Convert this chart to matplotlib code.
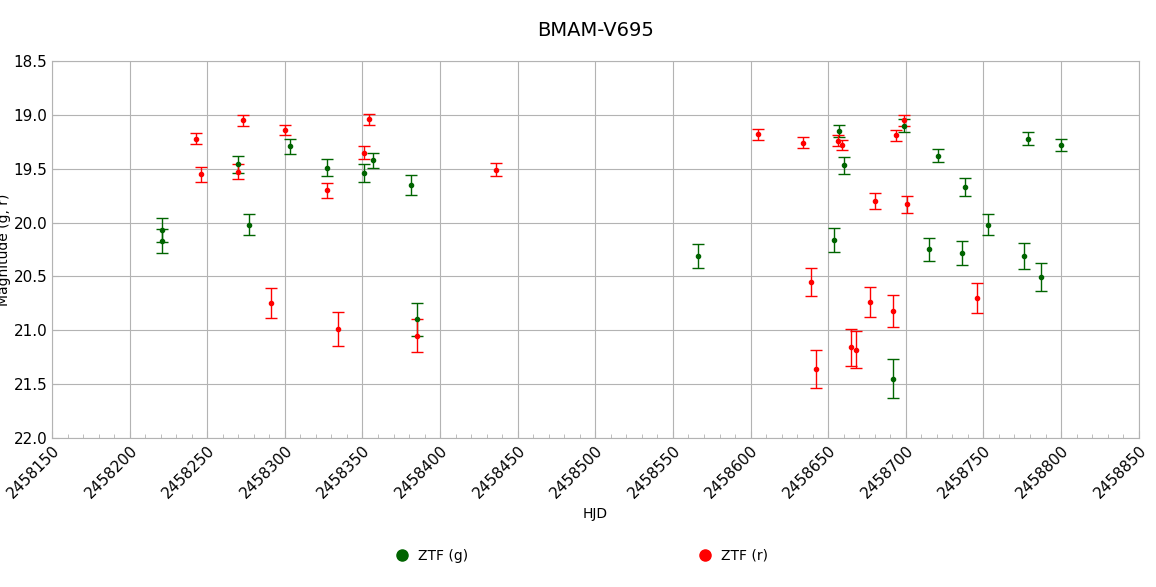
import matplotlib.pyplot as plt
from matplotlib.ticker import MultipleLocator, FuncFormatter

g_hjd = [2458221, 2458221, 2458270, 2458277, 2458303, 2458327, 2458351, 2458357, 2458381, 2458385,
         2458566, 2458657, 2458660, 2458654, 2458692, 2458699, 2458715, 2458721, 2458736, 2458738,
         2458753, 2458776, 2458779, 2458787, 2458800]
g_mag = [20.07, 20.17, 19.46, 20.02, 19.29, 19.49, 19.54, 19.42, 19.65, 20.9,
         20.31, 19.15, 19.47, 20.16, 21.45, 19.1, 20.25, 19.38, 20.28, 19.67,
         20.02, 20.31, 19.22, 20.51, 19.28]
g_err = [0.11, 0.11, 0.08, 0.1, 0.07, 0.08, 0.08, 0.07, 0.09, 0.15,
         0.11, 0.06, 0.08, 0.11, 0.18, 0.06, 0.11, 0.06, 0.11, 0.08,
         0.1, 0.12, 0.06, 0.13, 0.06]

r_hjd = [2458243, 2458246, 2458270, 2458273, 2458291, 2458300, 2458327, 2458334, 2458351, 2458354,
         2458385, 2458436, 2458605, 2458634, 2458639, 2458642, 2458656, 2458659, 2458665, 2458668,
         2458680, 2458677, 2458692, 2458694, 2458699, 2458701, 2458746]
r_mag = [19.22, 19.55, 19.53, 19.05, 20.75, 19.14, 19.7, 20.99, 19.35, 19.04,
         21.05, 19.51, 19.18, 19.26, 20.55, 21.36, 19.24, 19.28, 21.16, 21.18,
         19.8, 20.74, 20.82, 19.19, 19.05, 19.83, 20.7]
r_err = [0.05, 0.07, 0.07, 0.05, 0.14, 0.05, 0.07, 0.16, 0.06, 0.05,
         0.15, 0.06, 0.05, 0.05, 0.13, 0.18, 0.05, 0.05, 0.17, 0.17,
         0.07, 0.14, 0.15, 0.05, 0.05, 0.08, 0.14]

fig, ax = plt.subplots(figsize=(11.56, 5.87), dpi=100)
fig.subplots_adjust(left=0.045, right=0.985, top=0.896, bottom=0.254)

ax.errorbar(g_hjd, g_mag, yerr=g_err, fmt='o', ms=3, color='#006400', ecolor='#006400',
            elinewidth=1, capsize=4, label='ZTF (g)')
ax.errorbar(r_hjd, r_mag, yerr=r_err, fmt='o', ms=3, color='#ff0000', ecolor='#ff0000',
            elinewidth=1, capsize=4, label='ZTF (r)')

ax.set_xlim(2458150, 2458850)
ax.set_ylim(22.0, 18.5)
ax.xaxis.set_major_locator(MultipleLocator(50))
ax.xaxis.set_minor_locator(MultipleLocator(10))
ax.yaxis.set_major_locator(MultipleLocator(0.5))
ax.xaxis.set_major_formatter(FuncFormatter(lambda v, p: f'{v:.0f}'))
ax.yaxis.set_major_formatter(FuncFormatter(lambda v, p: f'{v:.1f}'))
ax.grid(True, which='major', color='#b3b3b3', lw=0.8)
ax.set_axisbelow(True)
for s in ax.spines.values():
    s.set_color('#b3b3b3')
ax.tick_params(which='both', color='#b3b3b3', direction='in', length=5, labelsize=11)
ax.tick_params(axis='x', which='minor', length=3)
plt.setp(ax.get_xticklabels(), rotation=45, ha='right', rotation_mode='anchor')

ax.set_xlabel('HJD', fontsize=10)
ax.set_ylabel('Magnitude (g, r)', fontsize=10, labelpad=2)
ax.set_title('BMAM-V695', fontsize=14, pad=18)

handles = [plt.Line2D([], [], marker='o', ls='', color='#006400', ms=8),
           plt.Line2D([], [], marker='o', ls='', color='#ff0000', ms=8)]
fig.legend(handles, ['ZTF (g)', 'ZTF (r)'], loc='lower center', ncol=2, frameon=False,
           fontsize=10, columnspacing=16, handletextpad=0.2, bbox_to_anchor=(0.5, 0.02))

fig.savefig('out.png')
